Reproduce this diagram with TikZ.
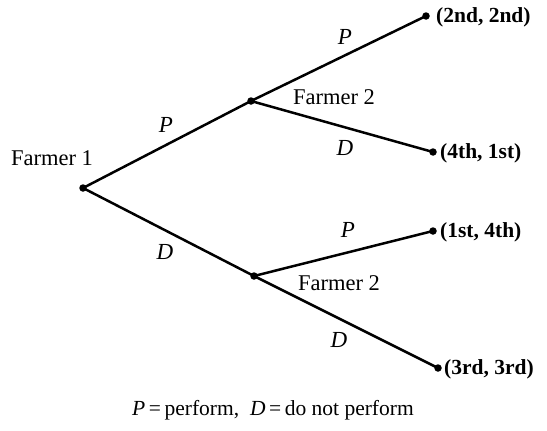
\documentclass[tikz,border=0pt]{standalone}
\usepackage{fontspec}
\setmainfont{Liberation Serif}
\begin{document}
\begin{tikzpicture}[x=1pt,y=-1pt,
  dotnode/.style={circle,fill=black,inner sep=0pt,minimum size=7.5pt},
  edge/.style={line width=2.5pt},
  lbl/.style={font=\fontsize{22.5}{26}\selectfont,inner sep=0pt},
  leaf/.style={font=\bfseries\fontsize{21.5}{25}\selectfont,inner sep=0pt,anchor=west},
  elbl/.style={font=\itshape\fontsize{23}{26}\selectfont,inner sep=0pt}]
\useasboundingbox (0,0) rectangle (547,431);
\node[dotnode] (r) at (83,188) {};
\node[dotnode] (u) at (251,101) {};
\node[dotnode] (l) at (254,276) {};
\node[dotnode] (a) at (426,16) {};
\node[dotnode] (b) at (433,152) {};
\node[dotnode] (c) at (433,231) {};
\node[dotnode] (d) at (438,368) {};
\draw[edge] (r.center) -- (u.center);
\draw[edge] (r.center) -- (l.center);
\draw[edge] (u.center) -- (a.center);
\draw[edge] (u.center) -- (b.center);
\draw[edge] (l.center) -- (c.center);
\draw[edge] (l.center) -- (d.center);
\node[lbl] (f1) at (52,158) {Farmer 1};
\node[lbl] (f2u) at (334,97) {Farmer 2};
\node[lbl] (f2l) at (339,283) {Farmer 2};
\node[leaf] (ta) at (436,17) {(2nd, 2nd)};
\node[leaf] (tb) at (440,153) {(4th, 1st)};
\node[leaf] (tc) at (440,232) {(1st, 4th)};
\node[leaf] (td) at (444,369) {(3rd, 3rd)};
\node[elbl] (p1) at (166,125) {P};
\node[elbl] (d1) at (165,252) {D};
\node[elbl] (p2) at (345,37) {P};
\node[elbl] (d2) at (345,148) {D};
\node[elbl] (p3) at (348,230) {P};
\node[elbl] (d3) at (339,340) {D};
\node[font=\fontsize{21.5}{25}\selectfont,inner sep=0pt] (cap) at (273,410) {\textit{P}\,=\,perform,\enspace \textit{D}\,=\,do not perform};
\end{tikzpicture}
\end{document}
